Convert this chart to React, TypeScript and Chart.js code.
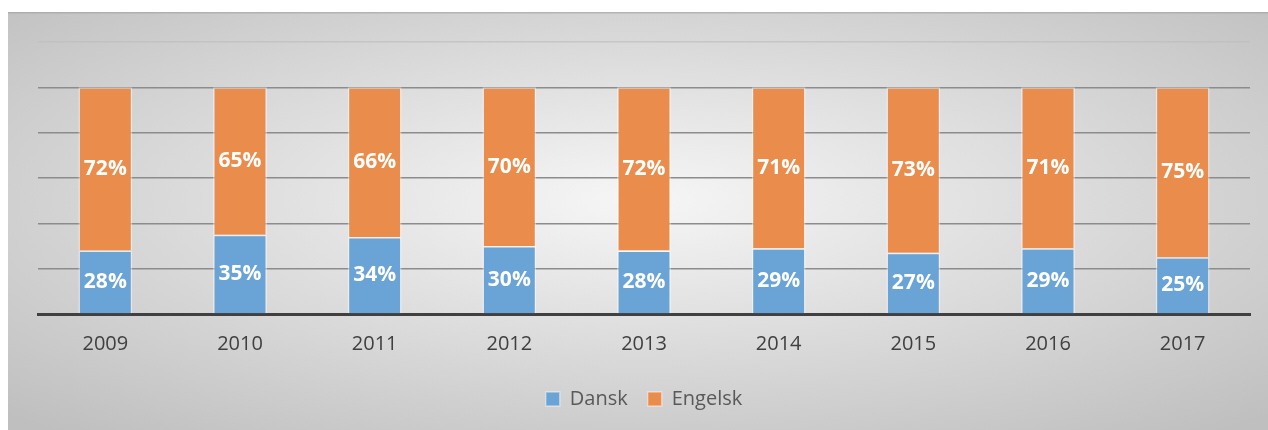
import React, { useEffect, useRef } from "react";
import { Chart, registerables } from "chart.js";

Chart.register(...registerables);

const years = ["2009", "2010", "2011", "2012", "2013", "2014", "2015", "2016", "2017"];
const dansk = [28, 35, 34, 30, 28, 29, 27, 29, 25];
const engelsk = [72, 65, 66, 70, 72, 71, 73, 71, 75];
const seriesNames = ["Dansk", "Engelsk"];
const FONT = "'Open Sans', 'DejaVu Sans', sans-serif";

const bgPlugin = {
  id: "bgPlugin",
  beforeDraw(chart: any) {
    const { ctx, width, height } = chart;
    ctx.save();
    const cx = width / 2;
    const cy = height * 0.45;
    const sy = height / width;
    ctx.translate(cx, cy);
    ctx.scale(1, sy);
    const r = width * 0.72;
    const g = ctx.createRadialGradient(0, 0, 0, 0, 0, r);
    g.addColorStop(0, "#f6f6f6");
    g.addColorStop(1, "#bfbfbf");
    ctx.fillStyle = g;
    ctx.fillRect(-cx, -cy / sy, width, height / sy);
    ctx.restore();
    ctx.save();
    ctx.fillStyle = "rgba(160,160,160,0.6)";
    ctx.fillRect(0, 0, width, 1.5);
    ctx.restore();
  },
};

const labelPlugin = {
  id: "labelPlugin",
  afterDatasetsDraw(chart: any) {
    const { ctx } = chart;
    ctx.save();
    ctx.font = `bold 21px ${FONT}`;
    ctx.fillStyle = "#ffffff";
    ctx.textAlign = "center";
    ctx.textBaseline = "middle";
    chart.data.datasets.forEach((ds: any, di: number) => {
      const meta = chart.getDatasetMeta(di);
      meta.data.forEach((bar: any, i: number) => {
        const v = ds.data[i];
        const y = (bar.y + bar.base) / 2;
        ctx.fillText(`${v}%`, bar.x, y);
      });
    });
    ctx.restore();
  },
};

export default function App() {
  const ref = useRef<HTMLCanvasElement | null>(null);
  useEffect(() => {
    if (!ref.current) return;
    const chart = new Chart(ref.current, {
      type: "bar",
      data: {
        labels: years,
        datasets: [
          {
            label: seriesNames[0],
            data: dansk,
            backgroundColor: "rgb(106,163,214)",
            borderColor: "rgba(255,255,255,0.45)",
            borderWidth: 1.5,
            categoryPercentage: 1,
            barPercentage: 0.4,
          },
          {
            label: seriesNames[1],
            data: engelsk,
            backgroundColor: "rgb(234,140,75)",
            borderColor: "rgba(255,255,255,0.45)",
            borderWidth: 1.5,
            categoryPercentage: 1,
            barPercentage: 0.4,
          },
        ],
      },
      options: {
        responsive: true,
        maintainAspectRatio: false,
        animation: false,
        layout: { padding: { left: 30, right: 18, top: 30, bottom: 11 } },
        plugins: {
          legend: {
            position: "bottom",
            labels: {
              font: { family: FONT, size: 20 },
              color: "#595959",
              boxWidth: 14,
              boxHeight: 14,
              padding: 20,
            },
          },
          tooltip: { enabled: false },
        },
        scales: {
          x: {
            stacked: true,
            grid: { display: false, drawTicks: false },
            border: { display: true, color: "#404040", width: 3 },
            ticks: { font: { family: FONT, size: 20 }, color: "#404040", padding: 18 },
            afterFit: (s: any) => {
              s.height = 55;
            },
          },
          y: {
            stacked: true,
            min: 0,
            max: 120,
            ticks: { display: false, stepSize: 20 },
            border: { display: false },
            grid: {
              drawTicks: false,
              lineWidth: 1.5,
              color: (c: any) => {
                const v = c.tick && c.tick.value;
                if (v === 0) return "transparent";
                if (v === 120) return "rgba(190,190,190,0.7)";
                return "#8c8c8c";
              },
            },
            afterFit: (s: any) => {
              s.width = 0;
            },
          },
        },
      },
      plugins: [bgPlugin, labelPlugin],
    });
    return () => chart.destroy();
  }, []);
  return (
    <div style={{ position: "fixed", left: 8, top: 12, width: 1260, height: 418 }}>
      <canvas ref={ref} />
    </div>
  );
}
